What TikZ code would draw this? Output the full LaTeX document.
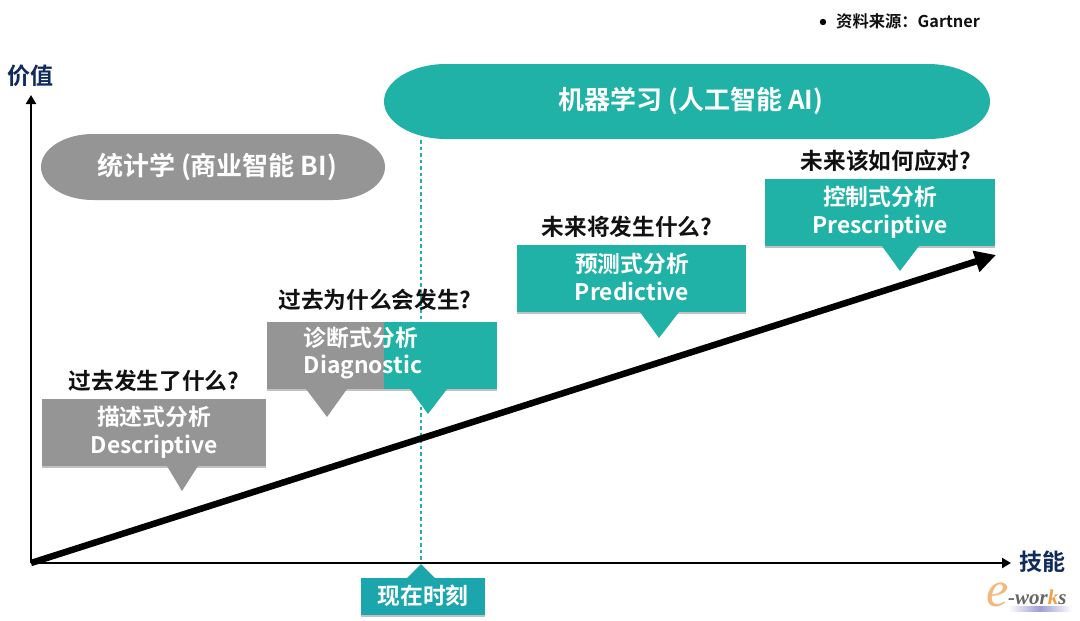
\documentclass[tikz,border=0pt]{standalone}
\usepackage{fontspec}
\setmainfont{Noto Sans CJK SC}[BoldFont={Noto Sans CJK SC Bold}]
\newfontfamily\logofont{Liberation Serif}
\usetikzlibrary{shadows,arrows.meta,calc}
\definecolor{teal1}{HTML}{20B2A6}
\definecolor{gray1}{HTML}{959595}
\definecolor{now1}{HTML}{1BA5AD}
\definecolor{navy1}{HTML}{0F2A5C}
\definecolor{ink1}{HTML}{111111}
\definecolor{orange1}{HTML}{F0A04A}
\definecolor{peach1}{HTML}{F2B880}
\tikzset{
 x=1pt,y=-1pt,
 boxshadow/.style={drop shadow={shadow xshift=0pt,shadow yshift=-2pt,opacity=.35,fill=black!70}},
 card/.style={inner sep=0pt,outer sep=0pt,anchor=north west,boxshadow},
 lbl/.style={font=\bfseries\fontsize{22.8}{27.5}\selectfont,text=white,align=center,inner sep=0pt},
 ask/.style={font=\bfseries\fontsize{22.7}{26}\selectfont,text=ink1,inner sep=0pt},
 pill/.style={font=\bfseries\fontsize{26}{30}\selectfont,text=white,inner sep=0pt},
 axis/.style={draw=black,line width=2.6pt,-{Triangle[length=9pt,width=10pt]}},
 axlbl/.style={font=\bfseries\fontsize{23}{26}\selectfont,text=navy1,inner sep=0pt},
}
\begin{document}
\begin{tikzpicture}
\useasboundingbox (0,0) rectangle (1080,621);
% ovals
\fill[teal1] (446,64) -- (928,64) .. controls (962,64) and (990,81) .. (990,101.5) .. controls (990,122) and (962,139) .. (928,139) -- (446,139) .. controls (412,139) and (384,122) .. (384,101.5) .. controls (384,81) and (412,64) .. (446,64) -- cycle;
\fill[gray1] (93,134) -- (333,134) .. controls (362,134) and (385,149) .. (385,167) .. controls (385,185) and (362,200) .. (333,200) -- (93,200) .. controls (64,200) and (41,185) .. (41,167) .. controls (41,149) and (64,134) .. (93,134) -- cycle;
\node[pill] (ml) at (691,101) {机器学习 (人工智能 AI)};
\node[pill] (stat) at (217,167) {统计学 (商业智能 BI)};
% dashed line anchors
\coordinate (dashtop) at (421,140);
\coordinate (dashbot) at (421,564);
% boxes
\node[card,fill=gray1,minimum width=224pt,minimum height=67pt] (desc) at (42,399) {};
\fill[gray1] (167,466) -- (182,491) -- (198,466) -- cycle;
\node[card,fill=gray1,minimum width=117pt,minimum height=67pt] (diagA) at (267,322) {};
\fill[gray1] (306,389) -- (327,417) -- (347,389) -- cycle;
\node[card,fill=teal1,minimum width=113pt,minimum height=67pt] (diagB) at (384,322) {};
\fill[teal1] (410,389) -- (428,414) -- (447,389) -- cycle;
\node[card,fill=teal1,minimum width=229pt,minimum height=67pt] (pred) at (517,245) {};
\fill[teal1] (640,312) -- (659,338) -- (679,312) -- cycle;
\node[card,fill=teal1,minimum width=230pt,minimum height=67pt] (pres) at (765,179) {};
\fill[teal1] (882,246) -- (900,271) -- (919,246) -- cycle;
% dashed line
\draw[teal1,line width=1.5pt,dash pattern=on 3.5pt off 3pt] (dashtop) -- (dashbot);
% axes
\coordinate (origin) at (31,563);
\coordinate (ytip) at (31,95);
\coordinate (xtip) at (1011,563);
\coordinate (gtip) at (996,255);
\draw[axis] (origin) -- (ytip);
\draw[axis] (origin) -- (xtip);
\draw[black,line width=6.5pt,-{Triangle[length=21pt,width=21pt]}] (origin) -- (gtip);
% labels in boxes
\node[lbl] (t1) at (154,432.5) {描述式分析\\Descriptive};
\node[lbl,align=left] (t2) at (363,353) {诊断式分析\\Diagnostic};
\node[lbl] (t3) at (632,277) {预测式分析\\Predictive};
\node[lbl] (t4) at (880,212) {控制式分析\\Prescriptive};
% questions
\node[ask] (q1) at (154,381) {过去发生了什么?};
\node[ask] (q2) at (375,300) {过去为什么会发生?};
\node[ask] (q3) at (627,227) {未来将发生什么?};
\node[ask] (q4) at (886,161) {未来该如何应对?};
% now
\node[card,fill=now1,minimum width=124pt,minimum height=37pt] (nowb) at (361,578) {};
\fill[now1] (406,579) -- (421,564) -- (436,579) -- cycle;
\node[font=\bfseries\fontsize{22.8}{26}\selectfont,text=white,inner sep=0pt] (nowt) at (423,596) {现在时刻};
% axis labels
\node[axlbl] (yl) at (30,76) {价值};
\node[axlbl] (xl) at (1042,562) {技能};
% source
\fill[black] (823,22) circle[radius=3.2];
\node[font=\bfseries\fontsize{16.3}{18}\selectfont,text=ink1,anchor=west,inner sep=0pt] (src) at (836,21) {资料来源：Gartner};
% logo
\shade[left color=white,right color=white,middle color=blue!40!gray!55] (1008,606) rectangle (1072,611);
\node[font=\logofont\itshape\fontsize{50}{50}\selectfont,text=peach1,inner sep=0pt] (loge) at (998,595) {e};
\node[font=\logofont\bfseries\itshape\fontsize{21}{21}\selectfont,text=gray!80!black,inner sep=0pt,anchor=west] (logow) at (1008,597) {-wor\textcolor{orange1}{k}s};
\end{tikzpicture}
\end{document}
